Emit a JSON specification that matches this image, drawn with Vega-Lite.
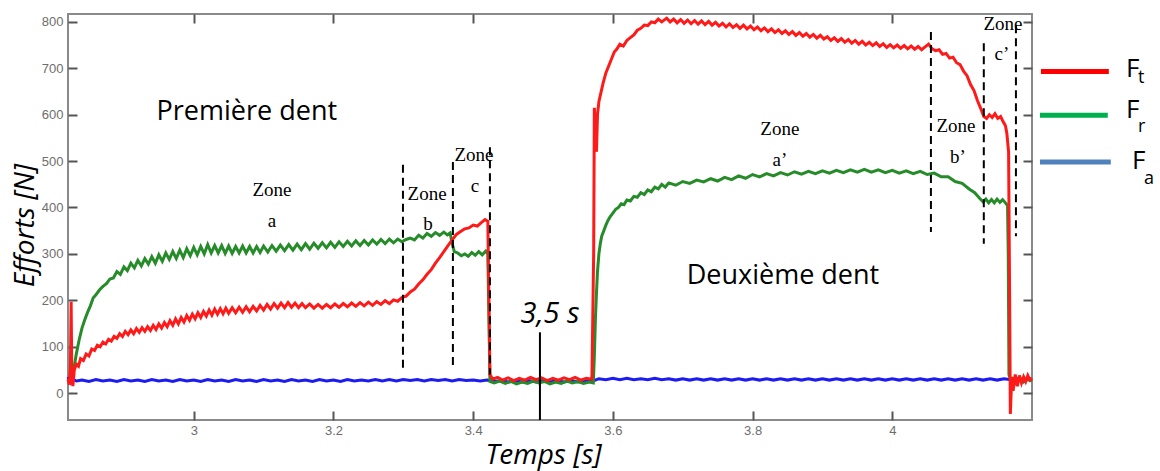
{
  "$schema": "https://vega.github.io/schema/vega-lite/v6.json",
  "width": 964,
  "height": 406,
  "autosize": {"type": "none"},
  "padding": {"left": 68, "top": 14, "right": 128, "bottom": 51},
  "background": "white",
  "config": {"view": {"stroke": "#8a8a8a", "strokeWidth": 2}},
  "datasets": {
    "ft": [
      {"t":2.820,"v":30},{"t":2.822,"v":18},{"t":2.8235,"v":60},{"t":2.8245,"v":197},{"t":2.8255,"v":30},{"t":2.827,"v":15},{"t":2.829,"v":50},{"t":2.832,"v":62},{"t":2.835,"v":58},{"t":2.838,"v":74},
      {"t":2.842,"v":70},{"t":2.846,"v":84},{"t":2.850,"v":80},{"t":2.854,"v":95},{"t":2.858,"v":92},{"t":2.862,"v":103},{"t":2.866,"v":100},{"t":2.870,"v":110},{"t":2.874,"v":106},{"t":2.878,"v":116},
      {"t":2.882,"v":112},{"t":2.886,"v":122},{"t":2.890,"v":118},{"t":2.894,"v":128},{"t":2.898,"v":122},{"t":2.902,"v":133},{"t":2.906,"v":126},{"t":2.910,"v":136},{"t":2.914,"v":128},{"t":2.918,"v":139},
      {"t":2.922,"v":131},{"t":2.926,"v":141},{"t":2.930,"v":133},{"t":2.934,"v":143},{"t":2.938,"v":135},{"t":2.942,"v":146},{"t":2.946,"v":137},{"t":2.950,"v":149},{"t":2.954,"v":140},{"t":2.958,"v":152},
      {"t":2.962,"v":143},{"t":2.966,"v":156},{"t":2.970,"v":146},{"t":2.974,"v":160},{"t":2.978,"v":149},{"t":2.982,"v":163},{"t":2.986,"v":153},{"t":2.990,"v":167},{"t":2.994,"v":157},{"t":2.998,"v":170},
      {"t":3.002,"v":160},{"t":3.006,"v":173},{"t":3.010,"v":163},{"t":3.014,"v":176},{"t":3.018,"v":166},{"t":3.022,"v":179},{"t":3.026,"v":168},{"t":3.030,"v":181},{"t":3.034,"v":170},{"t":3.038,"v":182},
      {"t":3.042,"v":171},{"t":3.046,"v":183},{"t":3.050,"v":172},{"t":3.055,"v":184},{"t":3.060,"v":173},{"t":3.065,"v":185},{"t":3.070,"v":174},{"t":3.075,"v":186},{"t":3.080,"v":175},{"t":3.085,"v":187},
      {"t":3.090,"v":177},{"t":3.095,"v":189},{"t":3.100,"v":179},{"t":3.105,"v":191},{"t":3.110,"v":181},{"t":3.115,"v":193},{"t":3.120,"v":183},{"t":3.125,"v":194},{"t":3.130,"v":184},{"t":3.135,"v":195},
      {"t":3.140,"v":185},{"t":3.145,"v":194},{"t":3.150,"v":184},{"t":3.155,"v":193},{"t":3.160,"v":184},{"t":3.166,"v":192},{"t":3.172,"v":183},{"t":3.178,"v":191},{"t":3.184,"v":183},{"t":3.190,"v":191},
      {"t":3.196,"v":184},{"t":3.202,"v":192},{"t":3.208,"v":185},{"t":3.214,"v":193},{"t":3.220,"v":186},{"t":3.226,"v":194},{"t":3.232,"v":187},{"t":3.238,"v":195},{"t":3.244,"v":188},{"t":3.250,"v":196},
      {"t":3.256,"v":189},{"t":3.262,"v":197},{"t":3.268,"v":191},{"t":3.274,"v":199},{"t":3.280,"v":193},{"t":3.286,"v":201},{"t":3.292,"v":198},{"t":3.298,"v":206},{"t":3.304,"v":209},{"t":3.310,"v":218},
      {"t":3.316,"v":224},{"t":3.322,"v":235},{"t":3.328,"v":244},{"t":3.334,"v":256},{"t":3.340,"v":266},{"t":3.346,"v":280},{"t":3.352,"v":292},{"t":3.358,"v":305},{"t":3.364,"v":318},{"t":3.370,"v":330},
      {"t":3.376,"v":342},{"t":3.382,"v":348},{"t":3.388,"v":354},{"t":3.394,"v":356},{"t":3.400,"v":362},{"t":3.406,"v":360},{"t":3.412,"v":368},{"t":3.417,"v":374},{"t":3.421,"v":370},{"t":3.4225,"v":200},
      {"t":3.424,"v":40},{"t":3.428,"v":30},{"t":3.435,"v":34},{"t":3.442,"v":28},{"t":3.450,"v":33},{"t":3.458,"v":27},{"t":3.466,"v":32},{"t":3.474,"v":28},{"t":3.482,"v":34},{"t":3.490,"v":29},
      {"t":3.498,"v":33},{"t":3.506,"v":27},{"t":3.514,"v":32},{"t":3.522,"v":28},{"t":3.530,"v":33},{"t":3.538,"v":29},{"t":3.546,"v":34},{"t":3.554,"v":28},{"t":3.562,"v":32},{"t":3.570,"v":30},
      {"t":3.5725,"v":300},{"t":3.5735,"v":615},{"t":3.575,"v":560},{"t":3.5765,"v":520},{"t":3.578,"v":600},{"t":3.580,"v":628},{"t":3.583,"v":648},{"t":3.586,"v":668},{"t":3.590,"v":690},{"t":3.594,"v":705},
      {"t":3.598,"v":720},{"t":3.602,"v":735},{"t":3.606,"v":742},{"t":3.610,"v":752},{"t":3.615,"v":748},{"t":3.620,"v":760},{"t":3.625,"v":766},{"t":3.630,"v":772},{"t":3.635,"v":782},{"t":3.640,"v":786},
      {"t":3.645,"v":793},{"t":3.650,"v":792},{"t":3.655,"v":800},{"t":3.660,"v":798},{"t":3.665,"v":806},{"t":3.670,"v":800},{"t":3.677,"v":808},{"t":3.682,"v":800},{"t":3.687,"v":806},{"t":3.692,"v":798},
      {"t":3.697,"v":805},{"t":3.702,"v":797},{"t":3.707,"v":804},{"t":3.712,"v":796},{"t":3.717,"v":803},{"t":3.722,"v":795},{"t":3.727,"v":802},{"t":3.732,"v":794},{"t":3.737,"v":801},{"t":3.742,"v":793},
      {"t":3.747,"v":799},{"t":3.752,"v":791},{"t":3.757,"v":797},{"t":3.762,"v":789},{"t":3.767,"v":796},{"t":3.772,"v":788},{"t":3.777,"v":794},{"t":3.782,"v":786},{"t":3.787,"v":793},{"t":3.792,"v":785},
      {"t":3.797,"v":791},{"t":3.802,"v":783},{"t":3.807,"v":789},{"t":3.812,"v":781},{"t":3.817,"v":787},{"t":3.822,"v":779},{"t":3.827,"v":785},{"t":3.832,"v":777},{"t":3.837,"v":783},{"t":3.842,"v":775},
      {"t":3.847,"v":781},{"t":3.852,"v":773},{"t":3.857,"v":779},{"t":3.862,"v":771},{"t":3.867,"v":777},{"t":3.872,"v":769},{"t":3.877,"v":775},{"t":3.882,"v":767},{"t":3.887,"v":773},{"t":3.892,"v":765},
      {"t":3.897,"v":771},{"t":3.902,"v":763},{"t":3.907,"v":768},{"t":3.912,"v":760},{"t":3.917,"v":766},{"t":3.922,"v":758},{"t":3.927,"v":764},{"t":3.932,"v":756},{"t":3.937,"v":762},{"t":3.942,"v":754},
      {"t":3.947,"v":760},{"t":3.952,"v":752},{"t":3.957,"v":758},{"t":3.962,"v":750},{"t":3.967,"v":756},{"t":3.972,"v":749},{"t":3.977,"v":755},{"t":3.982,"v":747},{"t":3.987,"v":753},{"t":3.992,"v":745},
      {"t":3.997,"v":751},{"t":4.002,"v":744},{"t":4.007,"v":750},{"t":4.012,"v":743},{"t":4.017,"v":749},{"t":4.022,"v":742},{"t":4.027,"v":748},{"t":4.032,"v":741},{"t":4.037,"v":747},{"t":4.042,"v":740},
      {"t":4.047,"v":746},{"t":4.052,"v":752},{"t":4.057,"v":742},{"t":4.062,"v":738},{"t":4.067,"v":740},{"t":4.072,"v":730},{"t":4.077,"v":732},{"t":4.082,"v":722},{"t":4.087,"v":724},{"t":4.092,"v":712},
      {"t":4.097,"v":708},{"t":4.102,"v":694},{"t":4.107,"v":684},{"t":4.112,"v":665},{"t":4.117,"v":652},{"t":4.122,"v":630},{"t":4.127,"v":612},{"t":4.131,"v":596},{"t":4.135,"v":592},{"t":4.139,"v":600},
      {"t":4.143,"v":594},{"t":4.147,"v":602},{"t":4.151,"v":592},{"t":4.155,"v":596},{"t":4.159,"v":584},{"t":4.162,"v":576},{"t":4.164,"v":560},{"t":4.1665,"v":520},{"t":4.168,"v":200},{"t":4.169,"v":-45},
      {"t":4.171,"v":35},{"t":4.173,"v":5},{"t":4.176,"v":40},{"t":4.179,"v":15},{"t":4.182,"v":38},{"t":4.185,"v":22},{"t":4.188,"v":35},{"t":4.191,"v":25},{"t":4.194,"v":38},{"t":4.197,"v":28},{"t":4.200,"v":32}
    ],
    "fr": [
      {"t":2.820,"v":30},{"t":2.824,"v":25},{"t":2.828,"v":50},{"t":2.832,"v":85},{"t":2.836,"v":115},{"t":2.840,"v":140},{"t":2.844,"v":158},{"t":2.848,"v":174},{"t":2.852,"v":188},{"t":2.856,"v":205},
      {"t":2.860,"v":212},{"t":2.865,"v":222},{"t":2.870,"v":230},{"t":2.875,"v":236},{"t":2.880,"v":246},{"t":2.885,"v":248},{"t":2.890,"v":262},{"t":2.895,"v":256},{"t":2.900,"v":272},{"t":2.905,"v":264},
      {"t":2.910,"v":280},{"t":2.915,"v":270},{"t":2.920,"v":286},{"t":2.925,"v":274},{"t":2.930,"v":290},{"t":2.935,"v":278},{"t":2.940,"v":294},{"t":2.945,"v":280},{"t":2.950,"v":298},{"t":2.955,"v":284},
      {"t":2.960,"v":302},{"t":2.965,"v":288},{"t":2.970,"v":305},{"t":2.975,"v":290},{"t":2.980,"v":308},{"t":2.985,"v":292},{"t":2.990,"v":311},{"t":2.995,"v":296},{"t":3.000,"v":314},{"t":3.005,"v":298},
      {"t":3.010,"v":316},{"t":3.015,"v":300},{"t":3.020,"v":320},{"t":3.025,"v":302},{"t":3.030,"v":318},{"t":3.035,"v":302},{"t":3.040,"v":318},{"t":3.045,"v":301},{"t":3.050,"v":317},{"t":3.055,"v":301},
      {"t":3.060,"v":316},{"t":3.065,"v":302},{"t":3.070,"v":317},{"t":3.075,"v":302},{"t":3.080,"v":316},{"t":3.085,"v":302},{"t":3.090,"v":316},{"t":3.095,"v":303},{"t":3.100,"v":317},{"t":3.106,"v":304},
      {"t":3.112,"v":318},{"t":3.118,"v":306},{"t":3.124,"v":319},{"t":3.130,"v":307},{"t":3.136,"v":320},{"t":3.142,"v":308},{"t":3.148,"v":321},{"t":3.154,"v":309},{"t":3.160,"v":322},{"t":3.166,"v":310},
      {"t":3.172,"v":323},{"t":3.178,"v":312},{"t":3.184,"v":324},{"t":3.190,"v":313},{"t":3.196,"v":325},{"t":3.202,"v":314},{"t":3.208,"v":326},{"t":3.214,"v":316},{"t":3.220,"v":327},{"t":3.226,"v":317},
      {"t":3.232,"v":328},{"t":3.238,"v":318},{"t":3.244,"v":329},{"t":3.250,"v":319},{"t":3.256,"v":330},{"t":3.262,"v":321},{"t":3.268,"v":331},{"t":3.274,"v":322},{"t":3.280,"v":332},{"t":3.286,"v":324},
      {"t":3.292,"v":332},{"t":3.298,"v":326},{"t":3.304,"v":331},{"t":3.310,"v":334},{"t":3.316,"v":330},{"t":3.322,"v":340},{"t":3.328,"v":334},{"t":3.334,"v":344},{"t":3.340,"v":338},{"t":3.346,"v":346},
      {"t":3.352,"v":340},{"t":3.358,"v":347},{"t":3.363,"v":341},{"t":3.367,"v":345},{"t":3.370,"v":322},{"t":3.373,"v":305},{"t":3.378,"v":302},{"t":3.383,"v":296},{"t":3.388,"v":300},{"t":3.393,"v":295},
      {"t":3.398,"v":303},{"t":3.403,"v":297},{"t":3.408,"v":305},{"t":3.413,"v":298},{"t":3.418,"v":306},{"t":3.421,"v":300},{"t":3.4228,"v":150},{"t":3.424,"v":25},{"t":3.430,"v":22},{"t":3.438,"v":26},
      {"t":3.446,"v":21},{"t":3.454,"v":25},{"t":3.462,"v":20},{"t":3.470,"v":24},{"t":3.478,"v":21},{"t":3.486,"v":26},{"t":3.494,"v":22},{"t":3.502,"v":25},{"t":3.510,"v":20},{"t":3.518,"v":24},
      {"t":3.526,"v":21},{"t":3.534,"v":26},{"t":3.542,"v":22},{"t":3.550,"v":25},{"t":3.558,"v":21},{"t":3.566,"v":24},{"t":3.572,"v":22},{"t":3.5735,"v":80},{"t":3.575,"v":160},{"t":3.5765,"v":215},
      {"t":3.578,"v":262},{"t":3.580,"v":300},{"t":3.582,"v":322},{"t":3.584,"v":338},{"t":3.587,"v":350},{"t":3.590,"v":362},{"t":3.593,"v":372},{"t":3.596,"v":380},{"t":3.600,"v":388},{"t":3.604,"v":396},
      {"t":3.608,"v":400},{"t":3.612,"v":408},{"t":3.616,"v":406},{"t":3.620,"v":416},{"t":3.625,"v":414},{"t":3.630,"v":424},{"t":3.635,"v":422},{"t":3.640,"v":432},{"t":3.645,"v":428},{"t":3.650,"v":438},
      {"t":3.655,"v":434},{"t":3.660,"v":444},{"t":3.665,"v":440},{"t":3.670,"v":450},{"t":3.675,"v":444},{"t":3.680,"v":453},{"t":3.690,"v":448},{"t":3.700,"v":456},{"t":3.710,"v":452},{"t":3.720,"v":459},
      {"t":3.730,"v":455},{"t":3.740,"v":462},{"t":3.750,"v":457},{"t":3.760,"v":465},{"t":3.770,"v":460},{"t":3.780,"v":468},{"t":3.790,"v":463},{"t":3.800,"v":471},{"t":3.810,"v":466},{"t":3.820,"v":473},
      {"t":3.830,"v":468},{"t":3.840,"v":475},{"t":3.850,"v":470},{"t":3.860,"v":477},{"t":3.870,"v":472},{"t":3.880,"v":478},{"t":3.890,"v":473},{"t":3.900,"v":479},{"t":3.910,"v":474},{"t":3.920,"v":480},
      {"t":3.930,"v":475},{"t":3.940,"v":481},{"t":3.950,"v":476},{"t":3.960,"v":482},{"t":3.970,"v":476},{"t":3.980,"v":481},{"t":3.990,"v":475},{"t":4.000,"v":480},{"t":4.010,"v":474},{"t":4.020,"v":479},
      {"t":4.030,"v":473},{"t":4.040,"v":478},{"t":4.050,"v":471},{"t":4.060,"v":474},{"t":4.070,"v":466},{"t":4.080,"v":466},{"t":4.090,"v":456},{"t":4.100,"v":452},{"t":4.110,"v":440},{"t":4.118,"v":432},
      {"t":4.125,"v":420},{"t":4.130,"v":412},{"t":4.134,"v":418},{"t":4.138,"v":410},{"t":4.142,"v":417},{"t":4.146,"v":410},{"t":4.150,"v":418},{"t":4.154,"v":411},{"t":4.158,"v":417},{"t":4.162,"v":410},
      {"t":4.165,"v":404},{"t":4.166,"v":300},{"t":4.167,"v":40},{"t":4.170,"v":25},{"t":4.174,"v":30},{"t":4.178,"v":22},{"t":4.183,"v":32},{"t":4.188,"v":24},{"t":4.193,"v":30},{"t":4.200,"v":26}
    ],
    "fa": [
      {"t":2.820,"v":35},{"t":2.824,"v":22},{"t":2.828,"v":29},{"t":2.832,"v":26},{"t":2.840,"v":28},{"t":2.850,"v":25},{"t":2.860,"v":29},{"t":2.870,"v":26},{"t":2.880,"v":28},{"t":2.890,"v":25},
      {"t":2.900,"v":29},{"t":2.910,"v":26},{"t":2.920,"v":28},{"t":2.930,"v":25},{"t":2.940,"v":29},{"t":2.950,"v":26},{"t":2.960,"v":28},{"t":2.970,"v":25},{"t":2.980,"v":29},{"t":2.990,"v":26},
      {"t":3.000,"v":28},{"t":3.010,"v":25},{"t":3.020,"v":29},{"t":3.030,"v":26},{"t":3.040,"v":28},{"t":3.050,"v":25},{"t":3.060,"v":29},{"t":3.070,"v":26},{"t":3.080,"v":28},{"t":3.090,"v":25},
      {"t":3.100,"v":29},{"t":3.110,"v":26},{"t":3.120,"v":28},{"t":3.130,"v":25},{"t":3.140,"v":29},{"t":3.150,"v":26},{"t":3.160,"v":28},{"t":3.170,"v":25},{"t":3.180,"v":29},{"t":3.190,"v":26},
      {"t":3.200,"v":28},{"t":3.210,"v":25},{"t":3.220,"v":29},{"t":3.230,"v":26},{"t":3.240,"v":28},{"t":3.250,"v":26},{"t":3.260,"v":29},{"t":3.270,"v":26},{"t":3.280,"v":29},{"t":3.290,"v":26},
      {"t":3.300,"v":29},{"t":3.310,"v":27},{"t":3.320,"v":29},{"t":3.330,"v":26},{"t":3.340,"v":29},{"t":3.350,"v":27},{"t":3.360,"v":29},{"t":3.370,"v":26},{"t":3.380,"v":29},{"t":3.390,"v":27},
      {"t":3.400,"v":28},{"t":3.410,"v":26},{"t":3.420,"v":28},{"t":3.430,"v":25},{"t":3.440,"v":27},{"t":3.450,"v":24},{"t":3.460,"v":27},{"t":3.470,"v":24},{"t":3.480,"v":27},{"t":3.490,"v":24},
      {"t":3.500,"v":27},{"t":3.510,"v":24},{"t":3.520,"v":27},{"t":3.530,"v":24},{"t":3.540,"v":27},{"t":3.550,"v":24},{"t":3.560,"v":27},{"t":3.570,"v":25},{"t":3.580,"v":31},{"t":3.590,"v":29},
      {"t":3.600,"v":32},{"t":3.610,"v":29},{"t":3.620,"v":32},{"t":3.630,"v":29},{"t":3.640,"v":31},{"t":3.650,"v":29},{"t":3.660,"v":32},{"t":3.670,"v":29},{"t":3.680,"v":31},{"t":3.690,"v":28},
      {"t":3.700,"v":31},{"t":3.710,"v":28},{"t":3.720,"v":31},{"t":3.730,"v":28},{"t":3.740,"v":31},{"t":3.750,"v":28},{"t":3.760,"v":31},{"t":3.770,"v":28},{"t":3.780,"v":31},{"t":3.790,"v":28},
      {"t":3.800,"v":31},{"t":3.810,"v":28},{"t":3.820,"v":31},{"t":3.830,"v":28},{"t":3.840,"v":31},{"t":3.850,"v":28},{"t":3.860,"v":31},{"t":3.870,"v":28},{"t":3.880,"v":31},{"t":3.890,"v":28},
      {"t":3.900,"v":31},{"t":3.910,"v":28},{"t":3.920,"v":31},{"t":3.930,"v":28},{"t":3.940,"v":31},{"t":3.950,"v":28},{"t":3.960,"v":31},{"t":3.970,"v":28},{"t":3.980,"v":31},{"t":3.990,"v":28},
      {"t":4.000,"v":31},{"t":4.010,"v":28},{"t":4.020,"v":31},{"t":4.030,"v":28},{"t":4.040,"v":31},{"t":4.050,"v":28},{"t":4.060,"v":31},{"t":4.070,"v":28},{"t":4.080,"v":31},{"t":4.090,"v":28},
      {"t":4.100,"v":31},{"t":4.110,"v":28},{"t":4.120,"v":31},{"t":4.130,"v":28},{"t":4.140,"v":31},{"t":4.150,"v":28},{"t":4.160,"v":31},{"t":4.170,"v":29},{"t":4.180,"v":31},{"t":4.190,"v":28},{"t":4.200,"v":30}
    ],
    "dash": [
      {"t":3.2995,"v":492,"v2":50},{"t":3.371,"v":498,"v2":50},{"t":3.424,"v":530,"v2":40},
      {"t":4.0553,"v":778,"v2":347},{"t":4.131,"v":754,"v2":322},{"t":4.177,"v":793,"v2":338}
    ],
    "marker": [{"t":3.4956,"v":131,"v2":-58}],
    "leg": [
      {"s":"Lt","t":4.2128,"t2":4.310,"v":693},
      {"s":"Lr","t":4.2114,"t2":4.3085,"v":599},
      {"s":"La","t":4.2114,"t2":4.3128,"v":498}
    ],
    "legF": [{"t":4.3345,"v":698,"txt":"F"},{"t":4.3345,"v":610,"txt":"F"},{"t":4.343,"v":500,"txt":"F"}],
    "legSub": [{"t":4.3516,"v":679,"txt":"t"},{"t":4.3516,"v":573,"txt":"r"},{"t":4.3603,"v":461,"txt":"a"}],
    "big": [{"t":3.076,"v":606,"txt":"Première dent"},{"t":3.8435,"v":252,"txt":"Deuxième dent"}],
    "ital": [{"t":3.51,"v":170,"txt":"3,5 s"}],
    "zones": [
      {"t":3.112,"v":438,"txt":"Zone"},{"t":3.112,"v":371,"txt":"a"},
      {"t":3.334,"v":429,"txt":"Zone"},{"t":3.3354,"v":364,"txt":"b"},
      {"t":3.4012,"v":513,"txt":"Zone"},{"t":3.4026,"v":446,"txt":"c"},
      {"t":3.839,"v":569,"txt":"Zone"},{"t":3.839,"v":502,"txt":"a’"},
      {"t":4.0911,"v":576,"txt":"Zone"},{"t":4.094,"v":509,"txt":"b’"},
      {"t":4.1584,"v":795,"txt":"Zone"},{"t":4.157,"v":730,"txt":"c’"}
    ]
  },
  "encoding": {
    "x": {"field": "t", "type": "quantitative", "scale": {"domain": [2.82, 4.2], "nice": false, "zero": false}, "axis": null},
    "y": {"field": "v", "type": "quantitative", "scale": {"domain": [-58, 817], "nice": false, "zero": false}, "axis": null}
  },
  "layer": [
    {
      "data": {"name": "fa"},
      "mark": {"type": "line", "strokeWidth": 3, "interpolate": "linear"},
      "encoding": {
        "x": {"field": "t", "type": "quantitative", "scale": {"domain": [2.82, 4.2], "nice": false, "zero": false},
          "axis": {"orient": "bottom", "offset": -9, "values": [3, 3.2, 3.4, 3.6, 3.8, 4], "format": ".1~f", "grid": false, "domain": false,
            "tickSize": 9, "tickColor": "#555555", "tickWidth": 2, "labelPadding": 4, "labelFont": "Liberation Sans", "labelFontSize": 13, "labelColor": "#6e6e6e",
            "title": "Temps [s]", "titleFont": "Open Sans", "titleFontStyle": "italic", "titleFontWeight": "normal", "titleFontSize": 28, "titleColor": "#000000",
            "titleX": 475, "titleY": 52, "titleAlign": "center", "titleBaseline": "alphabetic", "titleAnchor": null}},
        "y": {"field": "v", "type": "quantitative", "scale": {"domain": [-58, 817], "nice": false, "zero": false},
          "axis": {"orient": "left", "offset": -9, "values": [0, 100, 200, 300, 400, 500, 600, 700, 800], "grid": false, "domain": false,
            "tickSize": 9, "tickColor": "#555555", "tickWidth": 2, "labelPadding": 5, "labelFont": "Liberation Sans", "labelFontSize": 13, "labelColor": "#6e6e6e",
            "title": "Efforts [N]", "titleFont": "Open Sans", "titleFontStyle": "italic", "titleFontWeight": "normal", "titleFontSize": 28, "titleColor": "#000000",
            "titleAngle": -90, "titleX": -44, "titleY": 211, "titleAlign": "center", "titleBaseline": "alphabetic", "titleAnchor": null}},
        "color": {"datum": "Fa", "type": "nominal", "scale": {"domain": ["Ft", "Fr", "Fa", "Lt", "Lr", "La"], "range": ["#ff1a1a", "#268c2a", "#1c1cf0", "#ff0000", "#00b050", "#4f81bd"]}, "legend": null}
      }
    },
    {
      "data": {"name": "fr"},
      "mark": {"type": "line", "strokeWidth": 3},
      "encoding": {
        "x": {"field": "t", "type": "quantitative", "scale": {"domain": [2.82, 4.2], "nice": false, "zero": false},
          "axis": {"orient": "top", "offset": -9, "values": [3, 3.2, 3.4, 3.6, 3.8, 4], "labels": false, "grid": false, "domain": false, "tickSize": 9, "tickColor": "#555555", "tickWidth": 2, "title": null}},
        "y": {"field": "v", "type": "quantitative", "scale": {"domain": [-58, 817], "nice": false, "zero": false},
          "axis": {"orient": "right", "offset": -9, "values": [0, 100, 200, 300, 400, 500, 600, 700, 800], "labels": false, "grid": false, "domain": false, "tickSize": 9, "tickColor": "#555555", "tickWidth": 2, "title": null}},
        "color": {"datum": "Fr", "type": "nominal", "legend": null}
      }
    },
    {
      "data": {"name": "ft"},
      "mark": {"type": "line", "strokeWidth": 3},
      "encoding": {"color": {"datum": "Ft", "type": "nominal", "legend": null}}
    },
    {
      "data": {"name": "dash"},
      "mark": {"type": "rule", "color": "#000000", "strokeWidth": 2, "strokeDash": [8, 5]},
      "encoding": {"y2": {"field": "v2"}}
    },
    {
      "data": {"name": "marker"},
      "mark": {"type": "rule", "color": "#000000", "strokeWidth": 2},
      "encoding": {"y2": {"field": "v2"}}
    },
    {
      "data": {"name": "leg"},
      "mark": {"type": "rule", "strokeWidth": 5},
      "encoding": {"x2": {"field": "t2"}, "color": {"field": "s", "type": "nominal", "legend": null}}
    },
    {
      "data": {"name": "legF"},
      "mark": {"type": "text", "font": "Open Sans", "fontSize": 26, "align": "left", "baseline": "middle", "color": "#000000"},
      "encoding": {"text": {"field": "txt"}}
    },
    {
      "data": {"name": "legSub"},
      "mark": {"type": "text", "font": "Open Sans", "fontSize": 18, "align": "left", "baseline": "middle", "color": "#000000"},
      "encoding": {"text": {"field": "txt"}}
    },
    {
      "data": {"name": "big"},
      "mark": {"type": "text", "font": "Open Sans", "fontSize": 27, "align": "center", "baseline": "middle", "color": "#000000"},
      "encoding": {"text": {"field": "txt"}}
    },
    {
      "data": {"name": "ital"},
      "mark": {"type": "text", "font": "Open Sans", "fontStyle": "italic", "fontSize": 29, "align": "center", "baseline": "middle", "color": "#000000"},
      "encoding": {"text": {"field": "txt"}}
    },
    {
      "data": {"name": "zones"},
      "mark": {"type": "text", "font": "Liberation Serif", "fontSize": 19, "align": "center", "baseline": "middle", "color": "#000000"},
      "encoding": {"text": {"field": "txt"}}
    }
  ],
  "resolve": {"axis": {"x": "independent", "y": "independent"}}
}
